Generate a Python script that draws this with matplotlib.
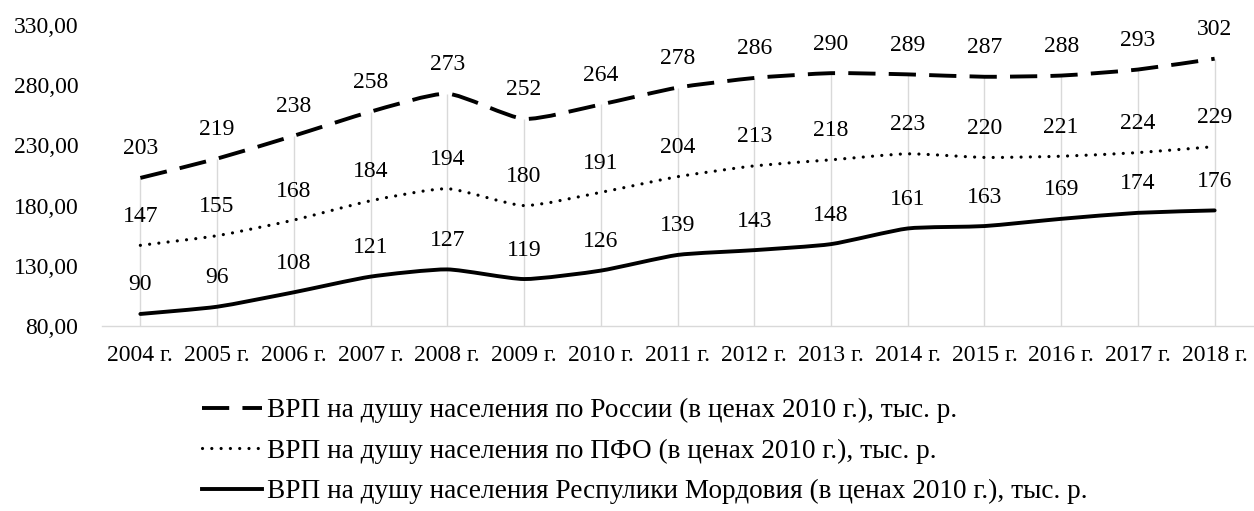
import matplotlib
matplotlib.use("Agg")
import matplotlib.pyplot as plt
from matplotlib.path import Path
from matplotlib.patches import PathPatch
from matplotlib.lines import Line2D
import numpy as np

years = ["2004 г.", "2005 г.", "2006 г.", "2007 г.", "2008 г.", "2009 г.", "2010 г.",
         "2011 г.", "2012 г.", "2013 г.", "2014 г.", "2015 г.", "2016 г.", "2017 г.", "2018 г."]
russia = [203, 219, 238, 258, 273, 252, 264, 278, 286, 290, 289, 287, 288, 293, 302]
pfo = [147, 155, 168, 184, 194, 180, 191, 204, 213, 218, 223, 220, 221, 224, 229]
mordovia = [90, 96, 108, 121, 127, 119, 126, 139, 143, 148, 161, 163, 169, 174, 176]

labels = [
    "ВРП на душу населения по России (в ценах 2010 г.), тыс. р.",
    "ВРП на душу населения по ПФО (в ценах 2010 г.), тыс. р.",
    "ВРП на душу населения Респулики Мордовия (в ценах 2010 г.), тыс. р.",
]

plt.rcParams['font.family'] = ['Liberation Serif', 'DejaVu Serif']
FS = 17
LFS = 19.6

fig = plt.figure(figsize=(12.54, 5.11), dpi=100)
ax = fig.add_axes([102/1254, 1-326/511, (1253-102)/1254, (326-25)/511])

x = np.arange(len(years))
TENSION = 0.1


def smooth_path(xs, ys):
    pts = np.column_stack([xs, ys]).astype(float)
    n = len(pts)
    verts = [pts[0]]
    codes = [Path.MOVETO]
    for i in range(n - 1):
        p0 = pts[i - 1] if i > 0 else pts[i]
        p1 = pts[i]
        p2 = pts[i + 1]
        p3 = pts[i + 2] if i + 2 < n else pts[i + 1]
        c1 = p1 + (p2 - p0) * TENSION
        c2 = p2 - (p3 - p1) * TENSION
        verts += [c1, c2, p2]
        codes += [Path.CURVE4] * 3
    return Path(verts, codes)


# drop lines
ax.vlines(x, 80, russia, colors="#d9d9d9", linewidth=1.0, zorder=1)

DASH = (0, (7.0, 3.4))
DOT = (0, (0.01, 2.9))
styles = [
    dict(linestyle=DASH, capstyle="butt", lw=2.8),
    dict(linestyle=DOT, capstyle="round", lw=2.3),
    dict(linestyle="-", capstyle="round", lw=2.8),
]
for vals, st in zip([russia, pfo, mordovia], styles):
    patch = PathPatch(smooth_path(x, vals), fill=False, edgecolor="black",
                      linewidth=st["lw"], linestyle=st["linestyle"], capstyle=st["capstyle"],
                      joinstyle="round", zorder=3)
    ax.add_patch(patch)
    for xi, v in zip(x, vals):
        ax.annotate(str(v), (xi, v), xytext=(0, 29), textcoords="offset pixels",
                    ha="center", va="center", fontsize=FS, zorder=4)

ax.set_xlim(-0.5, len(years) - 0.5)
ax.set_ylim(80, 330)
ax.set_yticks([80, 130, 180, 230, 280, 330])
ax.set_yticklabels([f"{v:.2f}".replace(".", ",") for v in [80, 130, 180, 230, 280, 330]],
                   fontsize=FS)
ax.set_xticks(x)
ax.set_xticklabels(years, fontsize=FS)
ax.tick_params(axis="both", length=0)
ax.tick_params(axis="y", pad=17)
ax.tick_params(axis="x", pad=14)
for s in ["left", "right", "top"]:
    ax.spines[s].set_visible(False)
ax.spines["bottom"].set_color("#d9d9d9")
ax.spines["bottom"].set_linewidth(1.0)
ax.spines["bottom"].set_zorder(0)
ax.patch.set_alpha(0)

handles = [
    Line2D([], [], color="black", linewidth=2.8, linestyle=DASH, dash_capstyle="butt"),
    Line2D([], [], color="black", linewidth=2.3, linestyle=DOT, dash_capstyle="round"),
    Line2D([], [], color="black", linewidth=2.8, linestyle="-"),
]
fig.legend(handles, labels, loc="upper left", bbox_to_anchor=(202/1254, 1-398/511),
           frameon=False, fontsize=LFS, handlelength=2.2, handletextpad=0.18,
           labelspacing=0.57, borderpad=0, borderaxespad=0)

fig.savefig("out.png", dpi=100)
